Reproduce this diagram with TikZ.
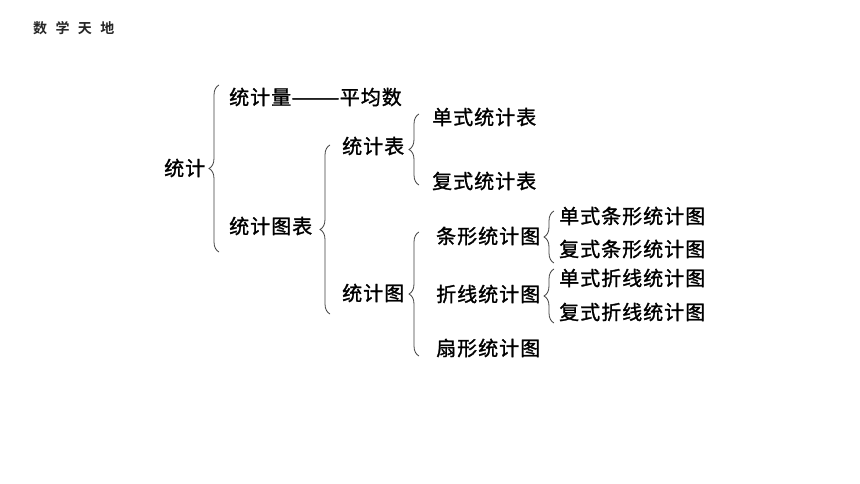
\documentclass[tikz,border=0pt]{standalone}
\usepackage{fontspec}
\newfontfamily\cjk[LetterSpace=5, FakeBold=1.3]{Noto Sans CJK SC}
\newfontfamily\cjktitle[LetterSpace=60]{Noto Sans CJK SC Bold}
\usetikzlibrary{decorations.pathreplacing}
\tikzset{
  lbl/.style={anchor=west, inner sep=0pt, font=\cjk\fontsize{20}{20}\selectfont, text=black},
  ttl/.style={anchor=west, inner sep=0pt, font=\cjktitle\fontsize{14}{14}\selectfont, text=black!85},
  brc/.style={draw=black!75, line width=0.8pt, decorate, decoration={brace, amplitude=10pt, aspect=0.5}}
}
\begin{document}
\begin{tikzpicture}[x=1pt, y=-1pt]
\useasboundingbox (0,0) rectangle (860,484);
\fill[white] (0,0) rectangle (860,484);
\node[ttl] (title) at (33,28) {数学天地};
% level 0
\node[lbl] (tj) at (164,168) {统计};
% level 1
\node[lbl] (tjl) at (229,97) {统计量\scalebox{1.45}[1]{——}平均数};
\node[lbl] (tjtb) at (229,226) {统计图表};
% level 2
\node[lbl] (tjb) at (342,146) {统计表};
\node[lbl] (tjt) at (342,293) {统计图};
% level 3
\node[lbl] (dstjb) at (432,117) {单式统计表};
\node[lbl] (fstjb) at (432,181) {复式统计表};
\node[lbl] (txt) at (436,236) {条形统计图};
\node[lbl] (zxt) at (436,294) {折线统计图};
\node[lbl] (sxt) at (436,348) {扇形统计图};
% level 4
\node[lbl] (dstx) at (559,216) {单式条形统计图};
\node[lbl] (fstx) at (559,249) {复式条形统计图};
\node[lbl] (dszx) at (559,278) {单式折线统计图};
\node[lbl] (fszx) at (559,312) {复式折线统计图};
% brace end points
\coordinate (b1t) at (219,85);  \coordinate (b1b) at (219,252);
\coordinate (b2t) at (330,145); \coordinate (b2b) at (330,314);
\coordinate (b3t) at (419,114); \coordinate (b3b) at (419,185);
\coordinate (b4t) at (419,232); \coordinate (b4b) at (419,356);
\coordinate (b5t) at (554,211); \coordinate (b5b) at (554,263);
\coordinate (b6t) at (554,269); \coordinate (b6b) at (554,323);
\draw[brc] (b1b) -- (b1t);
\draw[brc] (b2b) -- (b2t);
\draw[brc] (b3b) -- (b3t);
\draw[brc] (b4b) -- (b4t);
\draw[brc] (b5b) -- (b5t);
\draw[brc] (b6b) -- (b6t);
\end{tikzpicture}
\end{document}
